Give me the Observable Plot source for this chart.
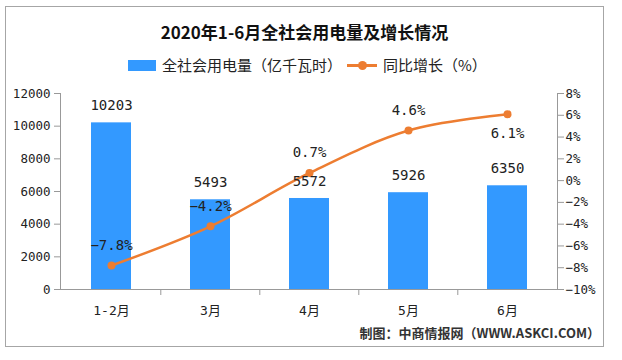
<!DOCTYPE html>
<html><head><meta charset="utf-8">
<script src="https://cdn.jsdelivr.net/npm/d3@7"></script>
<script src="https://cdn.jsdelivr.net/npm/@observablehq/plot@0.6"></script>
<style>
body{margin:0;background:#fff;}
#wrap{position:relative;width:622px;height:360px;overflow:hidden;background:#fff;}
#frame{position:absolute;left:5px;top:6px;width:599px;height:341px;border:1px solid #a6a6a6;box-sizing:border-box;}
#chart{position:absolute;left:0;top:0;}
.t{position:absolute;white-space:nowrap;color:#222;}
#title{left:0;width:609px;top:21px;text-align:center;font:bold 17px/22px "Noto Sans CJK SC",sans-serif;color:#111;}
.lg{font:15px/18px "Noto Sans CJK SC",sans-serif;top:56px;color:#222;}
#cap{right:22px;top:324px;font:bold 13px/18px "Noto Sans CJK SC",sans-serif;color:#333;}
</style></head>
<body>
<div id="wrap">
  <div id="frame"></div>
  <div id="chart"></div>
  <div class="t" id="title">2020年1-6月全社会用电量及增长情况</div>
  <div style="position:absolute;left:128px;top:60px;width:28px;height:11px;background:#3399ff"></div>
  <div class="t lg" style="left:162px">全社会用电量（亿千瓦时）</div>
  <div style="position:absolute;left:347px;top:64px;width:30px;height:3px;background:#ed7d31"></div>
  <div style="position:absolute;left:358px;top:61px;width:9px;height:9px;border-radius:50%;background:#ed7d31"></div>
  <div class="t lg" style="left:383px">同比增长（%）</div>
  <div class="t" id="cap">制图：中商情报网（WWW.ASKCI.COM）</div>
</div>
<script>
const months = ["1-2月", "3月", "4月", "5月", "6月"];
const consumption = [10203, 5493, 5572, 5926, 6350];
const growth = [-7.8, -4.2, 0.7, 4.6, 6.1];
const leftTicks = [0, 2000, 4000, 6000, 8000, 10000, 12000];
const rightTicks = [-10, -8, -6, -4, -2, 0, 2, 4, 6, 8];

const yMax = 12000, pMin = -10, pMax = 8;
const toLeft = p => (p - pMin) / (pMax - pMin) * yMax;
const fromLeft = v => Math.round(v / yMax * (pMax - pMin) + pMin);
const minus = s => s.replace("-", "−");
const rows = months.map((m, i) => ({month: m, value: consumption[i], growth: growth[i], g: toLeft(growth[i])}));

const font = "'DejaVu Sans Mono','Noto Sans CJK SC',monospace";
const chart = Plot.plot({
  width: 622, height: 360,
  marginTop: 93, marginBottom: 71, marginLeft: 60, marginRight: 65,
  style: {fontFamily: font, fontSize: "12px", color: "#222", background: "transparent"},
  x: {domain: months, paddingInner: 0.6, paddingOuter: 0.3, axis: null, label: null},
  y: {domain: [0, yMax], axis: null, label: null},
  marks: [
    Plot.barY(rows, {x: "month", y: "value", fill: "#3399ff"}),
    Plot.frame({anchor: "bottom", stroke: "#999"}),
    Plot.frame({anchor: "left", stroke: "#999"}),
    Plot.frame({anchor: "right", stroke: "#999"}),
    Plot.axisX(months.slice(1), {tickSize: 6, dx: -49.7, tickFormat: () => "", stroke: "#999", label: null}),
    Plot.axisX({tickSize: 0, tickPadding: 16, fontSize: 13, fill: "#222", label: null}),
    Plot.axisY({ticks: leftTicks, tickFormat: d => String(d), tickSize: 6, tickPadding: 4, stroke: "#999", fill: "#222", fontSize: 12.5, label: null}),
    Plot.axisY({anchor: "right", ticks: rightTicks.map(toLeft), tickFormat: v => minus(fromLeft(v) + "%"),
      tickSize: 6, tickPadding: 2, stroke: "#999", fill: "#222", fontSize: 12.5, label: null}),
    Plot.line(rows, {x: "month", y: "g", stroke: "#ed7d31", strokeWidth: 2.5, curve: "catmull-rom"}),
    Plot.dot(rows, {x: "month", y: "g", r: 4, fill: "#ed7d31"}),
    Plot.text(rows, {x: "month", y: "value", text: d => String(d.value), dy: -17, fontSize: 14, fill: "#222"}),
    Plot.text(rows, {filter: (d, i) => i < 4, x: "month", y: "g", text: d => minus(d.growth.toFixed(1)) + "%", dy: -20, fontSize: 14, fill: "#222"}),
    Plot.text(rows, {filter: (d, i) => i === 4, x: "month", y: "g", text: d => minus(d.growth.toFixed(1)) + "%", dy: 19, fontSize: 14, fill: "#222"})
  ]
});
document.getElementById("chart").appendChild(chart);
</script>
</body></html>
